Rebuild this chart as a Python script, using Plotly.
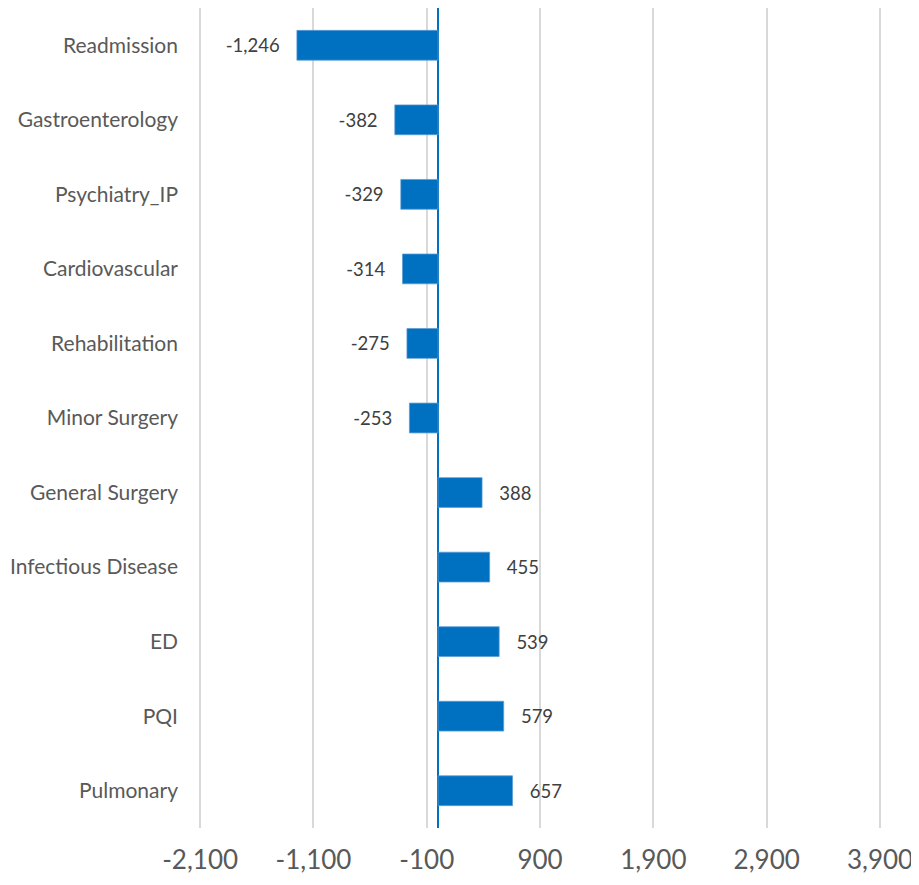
import plotly.graph_objects as go

categories = ["Readmission", "Gastroenterology", "Psychiatry_IP", "Cardiovascular",
              "Rehabilitation", "Minor Surgery", "General Surgery", "Infectious Disease",
              "ED", "PQI", "Pulmonary"]
values = [-1246, -382, -329, -314, -275, -253, 388, 455, 539, 579, 657]
tick_values = [-2100, -1100, -100, 900, 1900, 2900, 3900]
tick_labels = ["-2,100", "-1,100", "-100", "900", "1,900", "2,900", "3,900"]

pad = "\u00a0\u00a0\u00a0"
labels = [(f"{v:,}" + pad) if v < 0 else (pad + f"{v:,}") for v in values]

fig = go.Figure(go.Bar(
    x=values, y=categories, orientation="h",
    marker=dict(color="#0070C0", line=dict(color="#5B9BD5", width=0.75)),
    width=0.4,
    text=labels, textposition="outside", cliponaxis=False,
    textfont=dict(family="Lato", size=18.5, color="#404040"),
    hoverinfo="skip",
))

# page body has an 8px margin, so the figure is sized/offset to compensate
fig.update_layout(
    width=911, height=877,
    margin=dict(l=191, r=0, t=0, b=57, autoexpand=False),
    paper_bgcolor="white", plot_bgcolor="white",
    showlegend=False,
    font=dict(family="Lato", color="#595959"),
)
fig.update_xaxes(
    range=[-2110, 4244], tickvals=tick_values, ticktext=tick_labels,
    showgrid=True, gridcolor="#D9D9D9", gridwidth=1.5,
    zeroline=True, zerolinecolor="#0070C0", zerolinewidth=1.5,
    showline=False, ticks="", automargin=False,
    tickfont=dict(family="Lato", size=26, color="#595959"),
    ticklabelstandoff=14,
)
fig.update_yaxes(
    categoryorder="array", categoryarray=categories, autorange="reversed",
    showgrid=False, zeroline=False, showline=False, ticks="", automargin=False,
    tickfont=dict(family="Lato", size=21, color="#595959"),
    ticklabelstandoff=20,
)

fig.write_html("out.html")
